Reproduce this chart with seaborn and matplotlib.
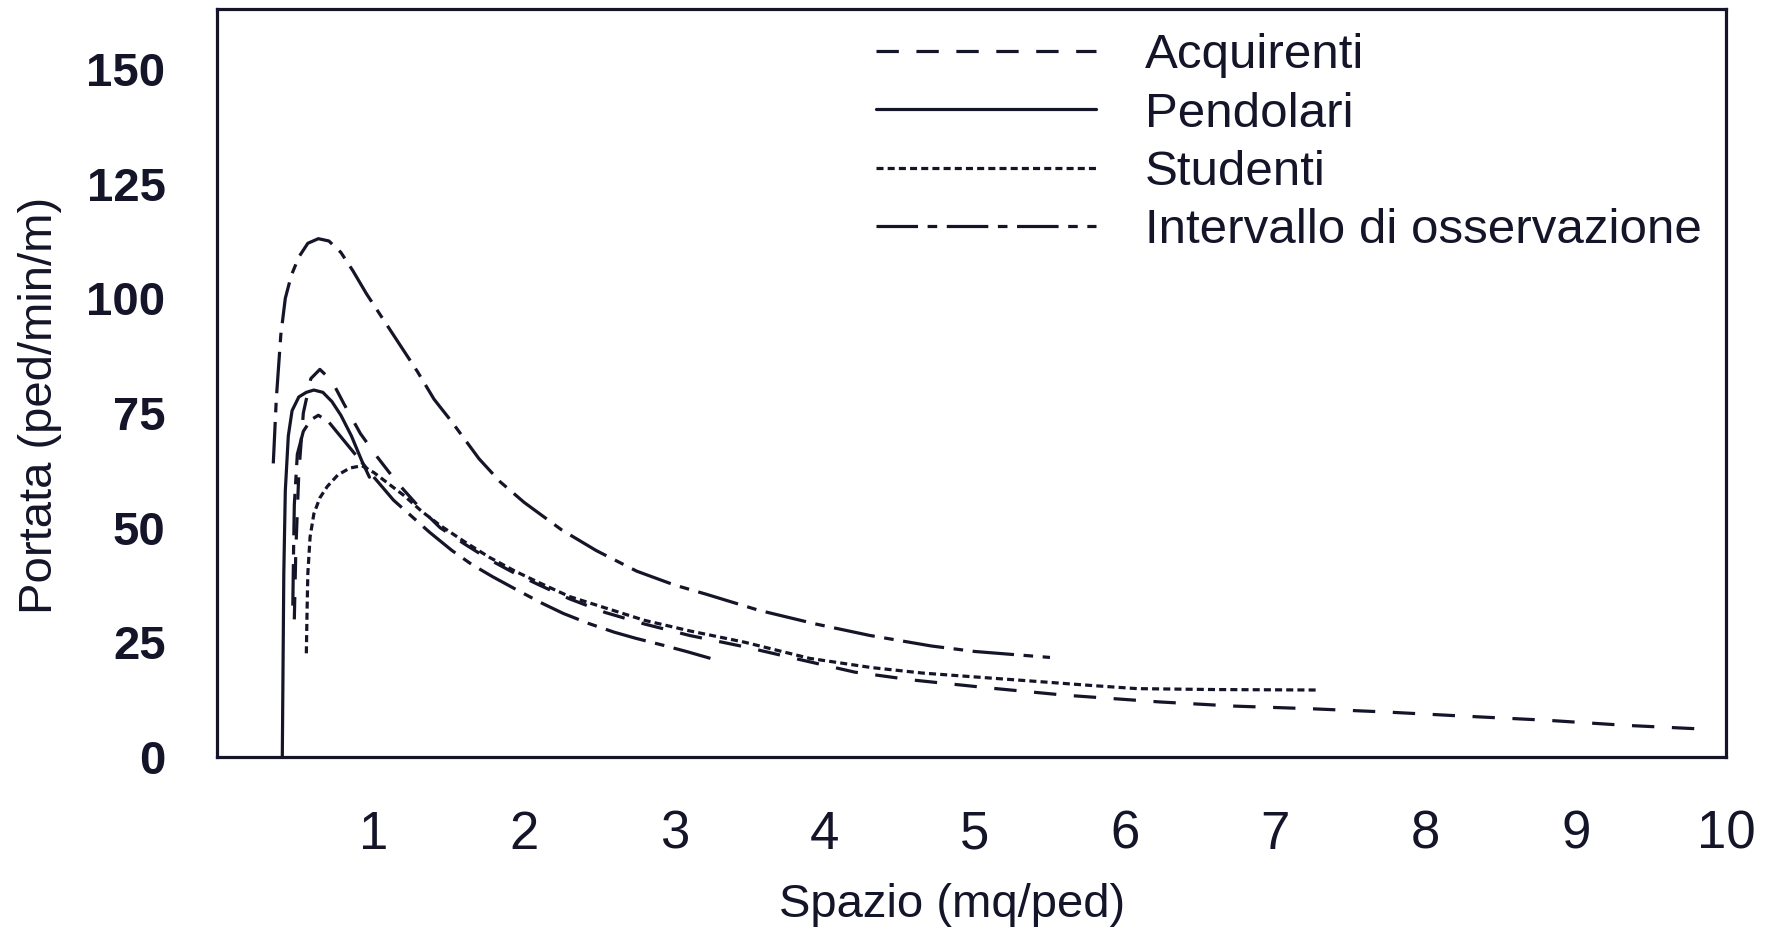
import matplotlib
matplotlib.use("Agg")
import matplotlib.pyplot as plt
from matplotlib import font_manager
from matplotlib.lines import Line2D
import pandas as pd
import seaborn as sns

# Flow (ped/min/m) against space (m² per pedestrian)
acquirenti_x = [0.47, 0.48, 0.50, 0.53, 0.58, 0.64, 0.72, 0.80, 0.91, 1.02, 1.15, 1.30,
                1.44, 1.60, 1.77, 1.94, 2.10, 2.30, 2.54, 2.80, 3.10, 3.47, 3.80, 4.20,
                4.58, 5.11, 5.59, 6.23, 6.72, 7.25, 7.74, 8.26, 8.81, 9.33, 9.90]
acquirenti_y = [30, 45, 62, 75, 82.5, 84.5, 82, 77, 70.5, 65.5, 60, 54.5,
                50, 46.5, 43, 40, 37.5, 34.5, 31.5, 29, 26.5, 24, 21.5, 18.5,
                16.8, 15, 13.5, 12, 11.1, 10.5, 9.8, 8.9, 8.0, 6.9, 6.0]

pendolari_x = [0.39, 0.395, 0.40, 0.41, 0.43, 0.455, 0.50, 0.55, 0.60, 0.66, 0.72,
               0.78, 0.85, 0.92, 0.97]
pendolari_y = [0, 20, 40, 58, 70, 75.5, 78.5, 79.5, 80, 79.5, 77.5,
               74.5, 70, 64.5, 61]

studenti_x = [0.55, 0.555, 0.56, 0.575, 0.60, 0.64, 0.69, 0.76, 0.84, 0.92, 1.00, 1.10,
              1.20, 1.32, 1.44, 1.60, 1.77, 1.94, 2.10, 2.30, 2.54, 2.80, 3.10, 3.47,
              3.90, 4.31, 4.65, 4.98, 5.40, 5.77, 6.08, 6.60, 7.28]
studenti_y = [22.6, 32, 40, 48, 53, 56.5, 59, 61.5, 63, 63.5, 62, 59.5,
              57, 53.5, 50.5, 47, 43.5, 40.5, 38, 35, 32.5, 29.8, 27.5, 25,
              21.5, 19.5, 18.3, 17.5, 16.5, 15.6, 14.9, 14.7, 14.6]

# Range of observations: upper and lower envelope
intervallo_sup_x = [0.33, 0.35, 0.38, 0.41, 0.45, 0.50, 0.56, 0.63, 0.70, 0.78, 0.86, 0.95,
                    1.05, 1.15, 1.29, 1.40, 1.52, 1.70, 1.84, 2.00, 2.25, 2.48, 2.75, 3.00,
                    3.21, 3.56, 3.94, 4.30, 4.71, 5.00, 5.50]
intervallo_sup_y = [64, 78, 92, 100, 105, 109, 112, 113, 112.5, 110, 106, 101,
                    96, 91, 84, 78, 73, 65, 60, 55.5, 49.5, 45, 40.5, 37.5,
                    35.5, 32, 29, 26.5, 24.2, 23, 21.7]

intervallo_inf_x = [0.46, 0.465, 0.47, 0.49, 0.53, 0.58, 0.63, 0.70, 0.80, 0.90, 1.00,
                    1.13, 1.25, 1.37, 1.52, 1.65, 1.79, 1.97, 2.12, 2.26, 2.43, 2.60,
                    2.74, 2.92, 3.08, 3.24]
intervallo_inf_y = [33, 45, 55, 66, 71, 73.5, 74.5, 73, 69, 65, 61,
                    56, 52.5, 49, 45, 42, 39.3, 36.1, 33.5, 31.3, 29.1, 27.2,
                    25.9, 24.4, 23, 21.5]

serie = ["Acquirenti", "Pendolari", "Studenti", "Intervallo di osservazione"]
y_ticks = [0, 25, 50, 75, 100, 125, 150]
x_ticks = [1, 2, 3, 4, 5, 6, 7, 8, 9, 10]

curves = [
    ("Acquirenti", "acq", acquirenti_x, acquirenti_y),
    ("Pendolari", "pen", pendolari_x, pendolari_y),
    ("Studenti", "stu", studenti_x, studenti_y),
    ("Intervallo di osservazione", "sup", intervallo_sup_x, intervallo_sup_y),
    ("Intervallo di osservazione", "inf", intervallo_inf_x, intervallo_inf_y),
]
df = pd.concat(
    [pd.DataFrame({"spazio": xs, "portata": ys, "serie": s, "curva": c})
     for s, c, xs, ys in curves],
    ignore_index=True,
)

sns.set_theme(style="white")
available = {f.name for f in font_manager.fontManager.ttflist}
base_font = "Liberation Sans" if "Liberation Sans" in available else "DejaVu Sans"
plt.rcParams["font.family"] = [base_font, "DejaVu Sans"]

ink = "#15152a"
lw = 2.3
dash_map = {
    "Acquirenti": (7, 5.5),
    "Pendolari": "",
    "Studenti": (2.2, 1.3),
    "Intervallo di osservazione": (13, 3, 3, 3),
}

fig = plt.figure(figsize=(17.71, 9.35), dpi=100)
ax = fig.add_axes([0.1225, 0.1904, 0.8521, 0.7996])

sns.lineplot(
    data=df, x="spazio", y="portata", style="serie", units="curva",
    estimator=None, sort=False, dashes=dash_map, style_order=serie,
    color=ink, linewidth=lw, legend=False, ax=ax,
)

ax.set_xlim(-0.045, 10)
ax.set_ylim(0, 163)
ax.set_xticks(x_ticks)
ax.set_yticks(y_ticks)
ax.set_xticklabels([str(v) for v in x_ticks], fontsize=38)
ax.set_yticklabels([str(v) for v in y_ticks], fontsize=34, fontweight="bold")
ax.tick_params(axis="both", direction="out", length=22, width=1.8, color=ink,
               labelcolor=ink)
ax.tick_params(axis="x", pad=16)
ax.tick_params(axis="y", pad=15)
for sp in ax.spines.values():
    sp.set_visible(True)
    sp.set_color(ink)
    sp.set_linewidth(2.3)

ax.set_xlabel("Spazio (mq/ped)", fontsize=34, color=ink)
ax.set_ylabel("Portata (ped/min/m)", fontsize=34, color=ink)
ax.xaxis.set_label_coords(0.487, -0.168)
ax.yaxis.set_label_coords(-0.103, 0.47)

handles = [
    Line2D([], [], color=ink, linewidth=lw,
           linestyle=(0, dash_map[s]) if dash_map[s] else "-")
    for s in serie
]
ax.legend(handles, serie, loc="upper left", bbox_to_anchor=(0.437, 0.968),
          frameon=False, fontsize=35.5, handlelength=4.45, handletextpad=1.0,
          labelspacing=0.27, borderaxespad=0, borderpad=0, labelcolor=ink)

fig.savefig("out.png", dpi=100, facecolor="white")
